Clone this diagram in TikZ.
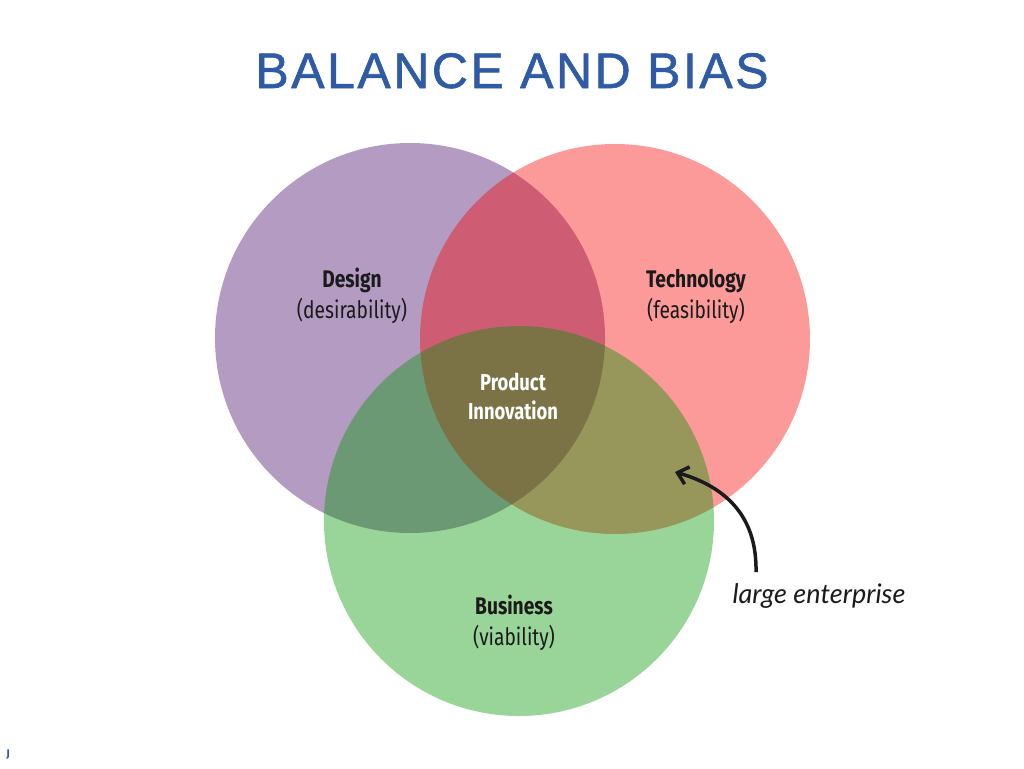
\documentclass[tikz,border=0pt]{standalone}
\usepackage{fontspec}
\setmainfont{Fira Sans}
\newfontfamily\titlefont[LetterSpace=5, FakeBold=1.2]{Liberation Sans}
\newfontfamily\condfont[FakeStretch=0.8]{Fira Sans}
\newfontfamily\handfont{Lato}
\usetikzlibrary{arrows.meta}

\definecolor{designcol}{RGB}{65,5,102}
\definecolor{techcol}{RGB}{247,0,0}
\definecolor{bizcol}{RGB}{0,150,0}
\definecolor{titleblue}{RGB}{46,90,166}
\definecolor{inkcol}{RGB}{26,26,26}

\tikzset{
  venn/.style={circle, minimum size=390pt, inner sep=0pt, fill opacity=0.4},
  setname/.style={anchor=base, text=inkcol, font=\condfont\bfseries\fontsize{24}{28}\selectfont},
  setsub/.style={anchor=base, text=inkcol, font=\condfont\fontsize{24}{28}\selectfont},
  coretext/.style={anchor=base, text=white, font=\condfont\bfseries\fontsize{23}{27}\selectfont},
  pointer/.style={line width=3.5pt, inkcol, -{Straight Barb[length=10pt, width=18pt, line width=3.5pt]}},
}

\begin{document}
\begin{tikzpicture}[x=1pt, y=-1pt]
        % Cadre
        \useasboundingbox (0,0) rectangle (1024,768);

        % Titre
        \node[anchor=base, text=titleblue, font=\titlefont\fontsize{50}{60}\selectfont] (title) at (512,88) {BALANCE AND BIAS};

        % Cercles
        \node[venn, fill=designcol] (design) at (410,338) {};
        \node[venn, fill=techcol] (tech) at (615,339) {};
        \node[venn, fill=bizcol] (business) at (519,521) {};

        % Etiquettes des cercles
        \node[setname] (designname) at (352,287) {Design};
        \node[setsub] (designsub) at (352,318) {(desirability)};
        \node[setname] (techname) at (696,287) {Technology};
        \node[setsub] (techsub) at (696,318) {(feasibility)};
        \node[setname] (bizname) at (514,614) {Business};
        \node[setsub] (bizsub) at (514,645) {(viability)};

        % Centre
        \node[coretext] (product) at (513,390) {Product};
        \node[coretext] (innovation) at (513,419) {Innovation};

        % Fleche vers l'intersection
        \node[anchor=base west, text=inkcol, font=\handfont\itshape\fontsize{27}{32}\selectfont] (enterprise) at (729,603) {large enterprise};
        \coordinate (arrowstart) at (756,572);
        \coordinate (arrowtip) at (675,472);
        \draw[pointer] (arrowstart) .. controls (757,520) and (730,488) .. (arrowtip);

        % Marque
        \node[anchor=base, text=titleblue, font=\bfseries\fontsize{11}{13}\selectfont] (mark) at (8,757) {J};
    \end{tikzpicture}
\end{document}
